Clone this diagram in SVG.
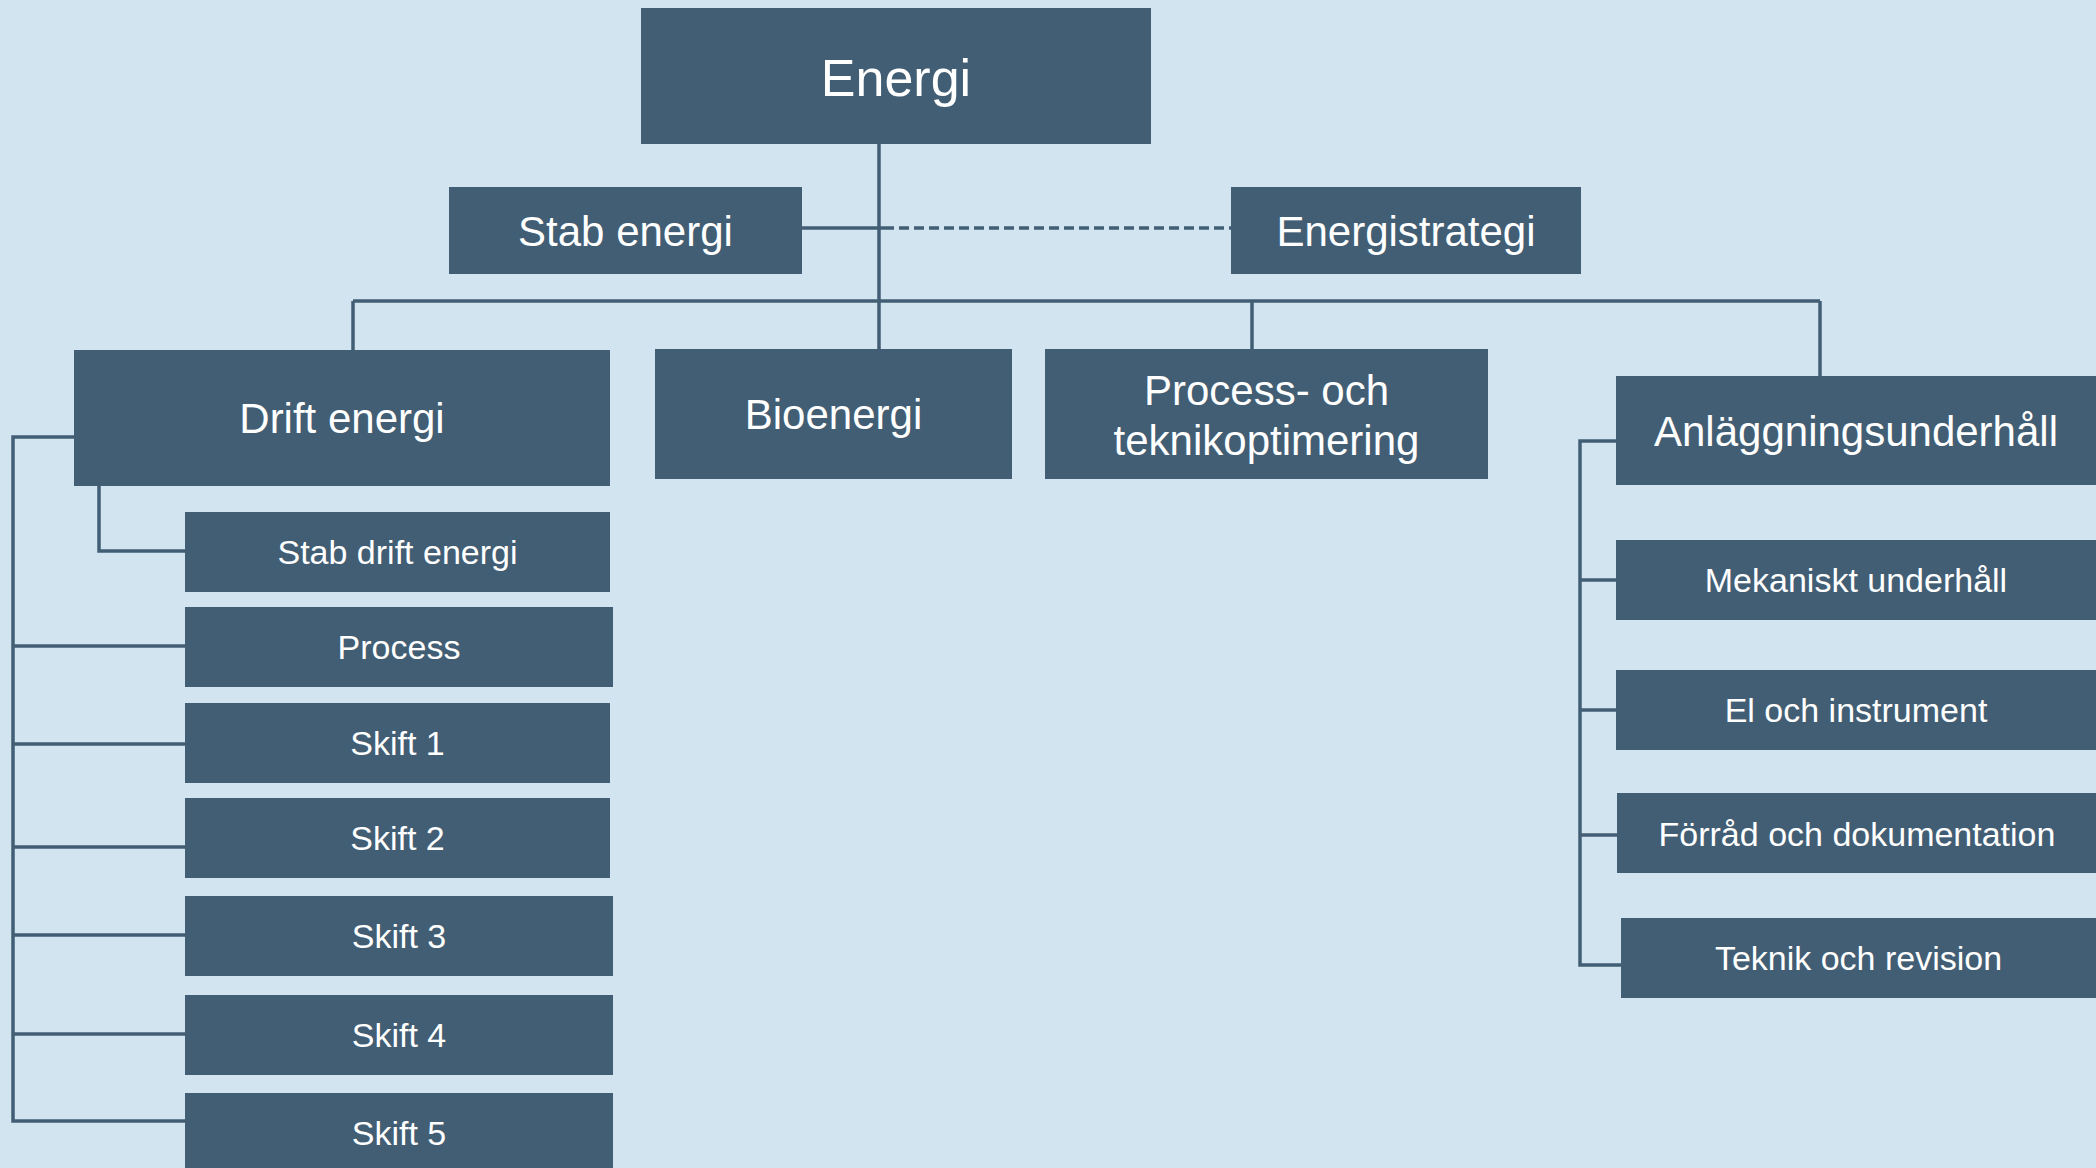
<svg xmlns="http://www.w3.org/2000/svg" width="2096" height="1168" viewBox="0 0 2096 1168">
  <style>
    .box { fill: #425e74; }
    .lbl { fill: #ffffff; font-family: "Liberation Sans", Arial, sans-serif; text-anchor: middle; }
    .xl { font-size: 52px; }
    .lg { font-size: 42px; }
    .sm { font-size: 34px; }
    .ln { fill: none; stroke: #425e74; stroke-width: 3.5; }
    .dash { stroke-dasharray: 10 5; }
  </style>
  <rect width="2096" height="1168" fill="#d2e4f0"/>

  <g id="connectors">
    <!-- top trunk -->
    <path class="ln" d="M879 144 V349"/>
    <path class="ln" d="M802 228 H884"/>
    <path class="ln dash" d="M884 228 H1231"/>
    <!-- bus to the four departments -->
    <path class="ln" d="M353 301 H1820"/>
    <path class="ln" d="M353 301 V350"/>
    <path class="ln" d="M1252 301 V349"/>
    <path class="ln" d="M1820 301 V376"/>
    <!-- Drift energi branch -->
    <path class="ln" d="M99 485 V551 H185"/>
    <path class="ln" d="M74 437 H13 V1121 H185"/>
    <path class="ln" d="M13 646 H185"/>
    <path class="ln" d="M13 744 H185"/>
    <path class="ln" d="M13 847 H185"/>
    <path class="ln" d="M13 935 H185"/>
    <path class="ln" d="M13 1034 H185"/>
    <!-- Anläggningsunderhåll branch -->
    <path class="ln" d="M1616 441 H1580 V965 H1621"/>
    <path class="ln" d="M1580 580 H1616"/>
    <path class="ln" d="M1580 710 H1616"/>
    <path class="ln" d="M1580 835 H1617"/>
  </g>

  <g id="energi">
    <rect class="box" x="641" y="8" width="510" height="136"/>
    <text class="lbl xl" x="896" y="96">Energi</text>
  </g>
  <g id="stab-energi">
    <rect class="box" x="449" y="187" width="353" height="87"/>
    <text class="lbl lg" x="625.5" y="246">Stab energi</text>
  </g>
  <g id="energistrategi">
    <rect class="box" x="1231" y="187" width="350" height="87"/>
    <text class="lbl lg" x="1406" y="246">Energistrategi</text>
  </g>
  <g id="drift-energi">
    <rect class="box" x="74" y="350" width="536" height="136"/>
    <text class="lbl lg" x="342" y="433">Drift energi</text>
  </g>
  <g id="bioenergi">
    <rect class="box" x="655" y="349" width="357" height="130"/>
    <text class="lbl lg" x="833.5" y="429">Bioenergi</text>
  </g>
  <g id="process-teknik">
    <rect class="box" x="1045" y="349" width="443" height="130"/>
    <text class="lbl lg" x="1266.5" y="405">Process- och</text>
    <text class="lbl lg" x="1266.5" y="455">teknikoptimering</text>
  </g>
  <g id="anlaggningsunderhall">
    <rect class="box" x="1616" y="376" width="480" height="109"/>
    <text class="lbl lg" x="1856" y="446">Anläggningsunderhåll</text>
  </g>

  <g id="stab-drift-energi">
    <rect class="box" x="185" y="512" width="425" height="80"/>
    <text class="lbl sm" x="397.5" y="564">Stab drift energi</text>
  </g>
  <g id="process">
    <rect class="box" x="185" y="607" width="428" height="80"/>
    <text class="lbl sm" x="399" y="659">Process</text>
  </g>
  <g id="skift-1">
    <rect class="box" x="185" y="703" width="425" height="80"/>
    <text class="lbl sm" x="397.5" y="755">Skift 1</text>
  </g>
  <g id="skift-2">
    <rect class="box" x="185" y="798" width="425" height="80"/>
    <text class="lbl sm" x="397.5" y="850">Skift 2</text>
  </g>
  <g id="skift-3">
    <rect class="box" x="185" y="896" width="428" height="80"/>
    <text class="lbl sm" x="399" y="948">Skift 3</text>
  </g>
  <g id="skift-4">
    <rect class="box" x="185" y="995" width="428" height="80"/>
    <text class="lbl sm" x="399" y="1047">Skift 4</text>
  </g>
  <g id="skift-5">
    <rect class="box" x="185" y="1093" width="428" height="80"/>
    <text class="lbl sm" x="399" y="1145">Skift 5</text>
  </g>

  <g id="mekaniskt-underhall">
    <rect class="box" x="1616" y="540" width="480" height="80"/>
    <text class="lbl sm" x="1856" y="592">Mekaniskt underhåll</text>
  </g>
  <g id="el-och-instrument">
    <rect class="box" x="1616" y="670" width="480" height="80"/>
    <text class="lbl sm" x="1856" y="722">El och instrument</text>
  </g>
  <g id="forrad-och-dokumentation">
    <rect class="box" x="1617" y="793" width="479" height="80"/>
    <text class="lbl sm" x="1857" y="846">Förråd och dokumentation</text>
  </g>
  <g id="teknik-och-revision">
    <rect class="box" x="1621" y="918" width="475" height="80"/>
    <text class="lbl sm" x="1858.5" y="970">Teknik och revision</text>
  </g>
</svg>
